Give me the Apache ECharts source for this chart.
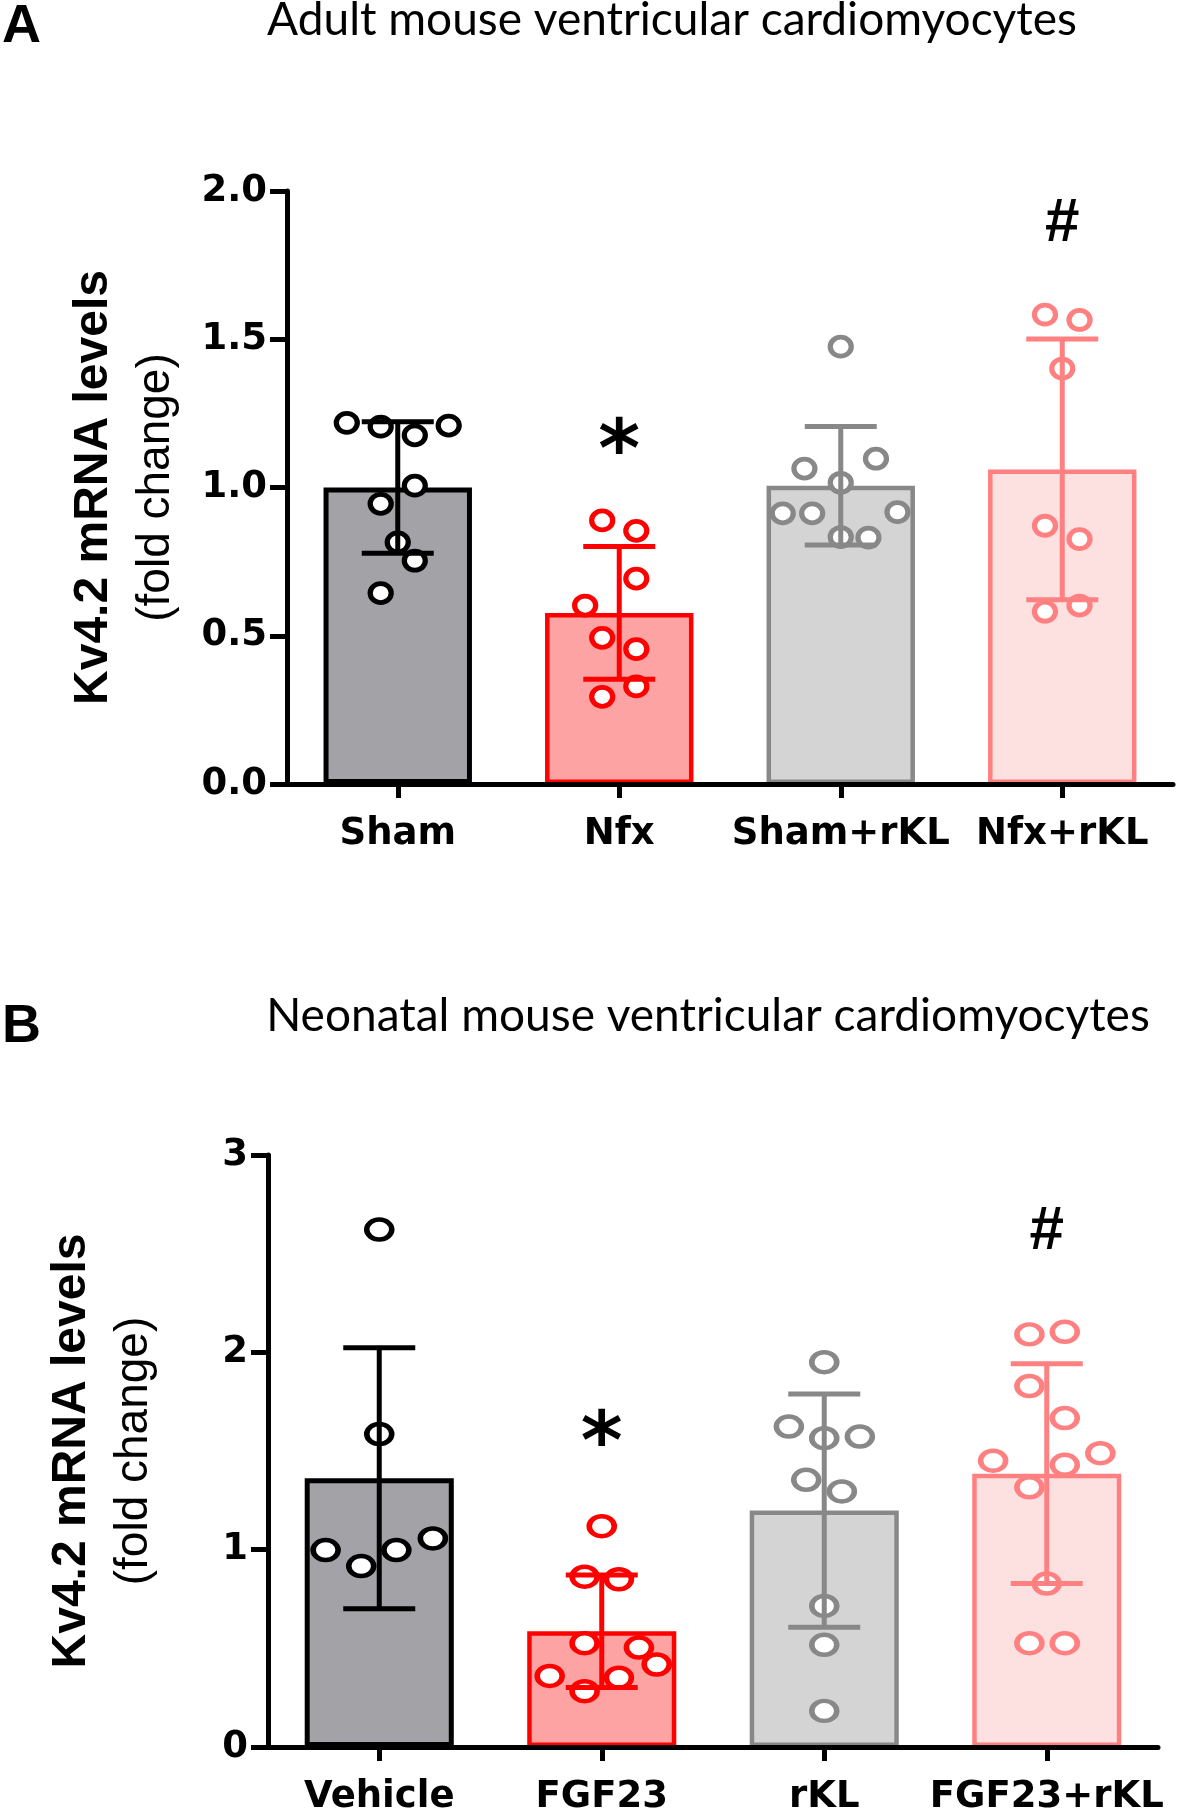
<!DOCTYPE html>
<html><head><meta charset="utf-8">
<script src="https://cdn.jsdelivr.net/npm/echarts@6/dist/echarts.min.js"></script>
<style>html,body{margin:0;padding:0;background:#fff}#c{width:1181px;height:1815px}</style>
</head><body><div id="c"></div>
<script>
// ---------- Panel A: adult cardiomyocytes ----------
const catsA = ['Sham', 'Nfx', 'Sham+rKL', 'Nfx+rKL'];
const meanA = [1.000, 0.577, 1.006, 1.061];
const sdA   = [0.222, 0.224, 0.200, 0.440];
const ptsA = [
  [1.218, 1.205, 1.176, 1.209, 1.006, 0.945, 0.815, 0.753, 0.644],
  [0.889, 0.854, 0.693, 0.602, 0.493, 0.455, 0.329, 0.294],
  [1.475, 1.097, 1.064, 1.016, 0.913, 0.913, 0.917, 0.833, 0.831],
  [1.583, 1.565, 1.401, 0.871, 0.826, 0.581, 0.602]
];
// horizontal scatter of the dots inside each bar (category units)
const jitA = [
  [-0.23, -0.077, 0.077, 0.23, 0.077, -0.077, 0, 0.077, -0.077],
  [-0.077, 0.077, 0.077, -0.154, -0.077, 0.077, 0.077, -0.077],
  [0, 0.159, -0.164, 0, -0.262, -0.129, 0.256, 0, 0.125],
  [-0.078, 0.078, 0, -0.078, 0.078, -0.078, 0.078]
];
const ticksA = {min: 0, max: 2, interval: 0.5};
const sigA = [{cat: 1, y: 1.11, text: '*'}, {cat: 3, y: 1.89, text: '#'}];

// ---------- Panel B: neonatal cardiomyocytes ----------
const catsB = ['Vehicle', 'FGF23', 'rKL', 'FGF23+rKL'];
const meanB = [1.362, 0.587, 1.198, 1.385];
const sdB   = [0.661, 0.285, 0.591, 0.557];
const ptsB = [
  [2.622, 1.586, 0.998, 0.917, 0.998, 1.057],
  [1.119, 0.863, 0.850, 0.526, 0.504, 0.418, 0.360, 0.351, 0.283],
  [1.950, 1.624, 1.565, 1.573, 1.354, 1.295, 0.715, 0.518, 0.183],
  [2.091, 2.104, 1.829, 1.667, 1.451, 1.489, 1.430, 1.316, 0.828, 0.526, 0.526]
];
const jitB = [
  [0, 0, -0.241, -0.081, 0.077, 0.241],
  [0, -0.077, 0.077, -0.077, 0.167, 0.247, -0.234, 0.077, -0.077],
  [0, -0.159, 0, 0.160, -0.081, 0.079, 0, 0, 0],
  [-0.078, 0.081, -0.078, 0.081, -0.241, 0.241, 0.081, -0.078, 0, -0.078, 0.081]
];
const ticksB = {min: 0, max: 3, interval: 1};
const sigB = [{cat: 1, y: 1.52, text: '*'}, {cat: 3, y: 2.61, text: '#'}];

// ---------- styling ----------
const fills  = ['#a3a2a7', '#fda3a3', '#d4d4d4', '#fde0e0'];
const lines  = ['#000000', '#ff0000', '#888888', '#ff8080'];
const bordW  = [5, 4.5, 4.5, 4.5];

const chart = echarts.init(document.getElementById('c'), null, {renderer: 'canvas'});

const grids = [
  {left: 287, top: 191, width: 886, height: 593, containLabel: false, outerBoundsMode: 'none'},
  {left: 268, top: 1155, width: 890, height: 592, containLabel: false, outerBoundsMode: 'none'}
];

function xAxes(p, cats) {
  return [
    {type: 'category', gridIndex: p, data: cats, z: 6,
     axisLine: {show: true, onZero: false, lineStyle: {color: '#000', width: 5}},
     axisTick: {show: true, alignWithLabel: true, length: 14, lineStyle: {color: '#000', width: 5}},
     axisLabel: {interval: 0, color: '#000', fontFamily: 'DejaVu Sans', fontWeight: 'bold', fontSize: 37, margin: 32},
     splitLine: {show: false}},
    {type: 'value', gridIndex: p, min: -0.5, max: 3.5, show: false}
  ];
}
function yAxis(p, t, dec, gap) {
  return {type: 'value', gridIndex: p, min: t.min, max: t.max, interval: t.interval,
    axisLine: {show: true, onZero: false, lineStyle: {color: '#000', width: 5}},
    axisTick: {show: true, length: 17, lineStyle: {color: '#000', width: 5}},
    splitLine: {show: false},
    axisLabel: {formatter: v => v.toFixed(dec), color: '#000', fontFamily: 'DejaVu Sans', fontWeight: 'bold', fontSize: 37, margin: 20},
    name: '{b|Kv4.2 mRNA levels}\n{n|(fold change)}',
    nameLocation: 'middle', nameRotate: 90, nameGap: gap,
    nameTextStyle: {color: '#000', rich: {
      b: {fontFamily: 'Liberation Sans', fontWeight: 'bold', fontSize: 48, lineHeight: 62, color: '#000'},
      n: {fontFamily: 'Liberation Sans', fontWeight: 'normal', fontSize: 46, lineHeight: 62, color: '#000'}
    }}
  };
}

function panelSeries(p, means, sds, pts, jit, sig, symSize) {
  const s = [];
  s.push({type: 'bar', xAxisIndex: p * 2, yAxisIndex: p, barWidth: '67%', z: 2,
    data: means.map((v, i) => ({value: v, itemStyle: {color: fills[i], borderColor: lines[i], borderWidth: bordW[i]}})),
    silent: true, animation: false});
  pts.forEach((arr, i) => {
    s.push({type: 'scatter', xAxisIndex: p * 2 + 1, yAxisIndex: p, z: 3, symbol: 'circle', symbolSize: symSize,
      itemStyle: {color: '#ffffff', borderColor: lines[i], borderWidth: 5, opacity: 1},
      data: arr.map((v, k) => [i + jit[i][k], v]), animation: false, silent: true});
  });
  s.push({type: 'custom', xAxisIndex: p * 2, yAxisIndex: p, z: 4, animation: false, silent: true,
    data: means.map((m, i) => [i, m, sds[i]]),
    encode: {x: 0, y: 1},
    renderItem: function (params, api) {
      const i = params.dataIndex;
      const m = api.value(1), sd = api.value(2);
      const top = api.coord([api.value(0), m + sd]);
      const bot = api.coord([api.value(0), m - sd]);
      const hw = 36;
      const st = {stroke: lines[i], lineWidth: 5};
      return {type: 'group', children: [
        {type: 'line', shape: {x1: top[0], y1: top[1], x2: bot[0], y2: bot[1]}, style: st},
        {type: 'line', shape: {x1: top[0] - hw, y1: top[1], x2: top[0] + hw, y2: top[1]}, style: st},
        {type: 'line', shape: {x1: bot[0] - hw, y1: bot[1], x2: bot[0] + hw, y2: bot[1]}, style: st}
      ]};
    }});
  s.push({type: 'custom', xAxisIndex: p * 2, yAxisIndex: p, z: 5, animation: false, silent: true,
    data: sig.map(d => [d.cat, d.y]),
    encode: {x: 0, y: 1},
    renderItem: function (params, api) {
      const d = sig[params.dataIndex];
      const c = api.coord([api.value(0), api.value(1)]);
      const star = d.text === '*';
      return {type: 'text', x: c[0], y: c[1], style: {text: d.text, fill: '#000', align: 'center', verticalAlign: 'middle',
        font: star ? 'bold 80px "DejaVu Sans"' : 'bold 62px "Liberation Sans"'}};
    }});
  return s;
}

const option = {
  backgroundColor: '#ffffff',
  animation: false,
  title: [
    {text: 'A', left: 2, top: 0, padding: 0, textStyle: {fontFamily: 'Liberation Sans', fontWeight: 'bold', fontSize: 54, color: '#000'}},
    {text: 'Adult mouse ventricular cardiomyocytes', left: 672, top: -3, padding: 0, textAlign: 'center',
     textStyle: {fontFamily: 'Lato', fontWeight: 'normal', fontSize: 46, color: '#000'}},
    {text: 'B', left: 2, top: 1000, padding: 0, textStyle: {fontFamily: 'Liberation Sans', fontWeight: 'bold', fontSize: 54, color: '#000'}},
    {text: 'Neonatal mouse ventricular cardiomyocytes', left: 708, top: 993, padding: 0, textAlign: 'center',
     textStyle: {fontFamily: 'Lato', fontWeight: 'normal', fontSize: 46, color: '#000'}}
  ],
  grid: grids,
  xAxis: [...xAxes(0, catsA), ...xAxes(1, catsB)],
  yAxis: [yAxis(0, ticksA, 1, 100), yAxis(1, ticksB, 0, 103)],
  series: [
    ...panelSeries(0, meanA, sdA, ptsA, jitA, sigA, [21, 19]),
    ...panelSeries(1, meanB, sdB, ptsB, jitB, sigB, [25, 20])
  ]
};
chart.setOption(option);
</script>
</body></html>
